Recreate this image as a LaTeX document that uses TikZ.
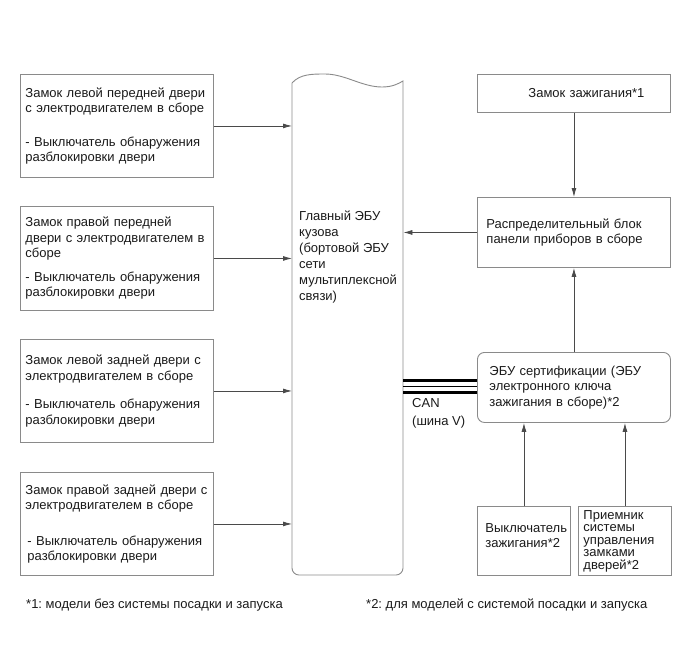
\documentclass[tikz,border=0pt]{standalone}
\usepackage{fontspec}
\setmainfont{Liberation Sans}
\usetikzlibrary{arrows.meta,calc,positioning}
\definecolor{ink}{HTML}{1A1A1A}
\definecolor{edge}{HTML}{8A8A8A}
\definecolor{wire}{HTML}{4A4A4A}
\frenchspacing

\begin{document}
\begin{tikzpicture}[x=1pt,y=-1pt,>={Latex[length=9pt,width=5pt]},font=\fontsize{13}{15.5}\selectfont,
  box/.style={draw=edge,line width=0.9pt,rectangle,inner xsep=5pt,inner ysep=0pt,align=left,text=ink,anchor=north west},
  link/.style={->,wire,line width=0.8pt},
  bus/.style={black,line width=2.4pt}]
\useasboundingbox (0,0) rectangle (687,662);
% --- door locks, left column
\node[box,minimum width=193pt,minimum height=103pt,text width=183pt] (lf) at (20,74)
  {Замок левой передней двери\\с электродвигателем в сборе\\[18pt]- Выключатель обнаружения\\разблокировки двери};
\node[box,minimum width=193pt,minimum height=104pt,text width=183pt] (rf) at (20,206)
  {Замок правой передней\\двери с электродвигателем в\\сборе\\[8pt]- Выключатель обнаружения\\разблокировки двери};
\node[box,minimum width=193pt,minimum height=103pt,text width=183pt] (lr) at (20,339)
  {Замок левой задней двери с\\электродвигателем в сборе\\[13pt]- Выключатель обнаружения\\разблокировки двери};
\node[box,minimum width=193pt,minimum height=103pt,text width=183pt] (rr) at (20,472)
  {Замок правой задней двери с\\электродвигателем в сборе\\[20pt]\hspace*{2pt}- Выключатель обнаружения\\\hspace*{2pt}разблокировки двери};
% --- main body ECU
\node[inner sep=0pt,minimum width=111pt,minimum height=492pt,anchor=north west] (ecu) at (292,83) {};
\draw[edge,line width=0.9pt] (292,83) .. controls (300,74) and (312,74) .. (325,74)
  .. controls (345,74) and (362,87) .. (382,87) .. controls (392,87) and (398,84) .. (403,81)
  [rounded corners=7pt] -- (403,575) -- (292,575) -- (292,83);
\node[text=ink,align=left,anchor=north west,inner sep=0pt,font=\fontsize{13}{16}\selectfont] (ecutext) at (299,211)
  {Главный ЭБУ\\кузова\\(бортовой ЭБУ\\сети\\мультиплексной\\связи)};
% --- right column
\node[box,minimum width=193pt,minimum height=38pt,text width=183pt] (lock) at (477,74)
  {\hspace*{46pt}Замок зажигания*1};
\node[box,inner xsep=9pt,minimum width=193pt,minimum height=70pt,text width=175pt] (dist) at (477,197)
  {Распределительный блок\\панели приборов в сборе};
\node[box,rounded corners=7pt,inner xsep=12pt,minimum width=193pt,minimum height=70pt,text width=169pt] (cert) at (477,352)
  {ЭБУ сертификации (ЭБУ\\электронного ключа\\зажигания в сборе)*2};
\node[box,inner xsep=8pt,minimum width=93pt,minimum height=69pt,text width=77pt] (ign) at (477,506)
  {Выключатель\\зажигания*2\\[-5pt]\mbox{}};
\node[box,minimum width=93pt,minimum height=69pt,text width=83pt,font=\fontsize{13}{12.5}\selectfont] (rcv) at (578,506)
  {Приемник\\системы\\управления\\замками\\дверей*2};
% --- CAN
\draw[bus] ($(ecu.east |- cert.west)+(0,-7)$) -- ($(cert.west)+(0,-7)$);
\draw[black,line width=1pt] ($(ecu.east |- cert.west)+(0,-1)$) -- ($(cert.west)+(0,-1)$);
\draw[bus] ($(ecu.east |- cert.west)+(0,5)$) -- ($(cert.west)+(0,5)$);
\node[text=ink,align=left,anchor=west,inner sep=0pt,font=\fontsize{13}{18}\selectfont] (can) at (412,413) {CAN\\(шина V)};
% --- connectors
\foreach \b in {lf,rf,lr,rr} {\draw[link] (\b.east) -- (\b.east -| ecu.west);}
\draw[link] (dist.west) -- (dist.west -| ecu.east);
\draw[link] (lock) -- (dist);
\draw[link] (cert) -- (dist);
\draw[link] (ign) -- (ign |- cert.south);
\draw[link] (rcv) -- (rcv |- cert.south);
% --- notes
\node[text=ink,anchor=west,inner sep=0pt] (note1) at (26,605) {*1: модели без системы посадки и запуска};
\node[text=ink,anchor=west,inner sep=0pt] (note2) at (366,605) {*2: для моделей с системой посадки и запуска};
\end{tikzpicture}
\end{document}
